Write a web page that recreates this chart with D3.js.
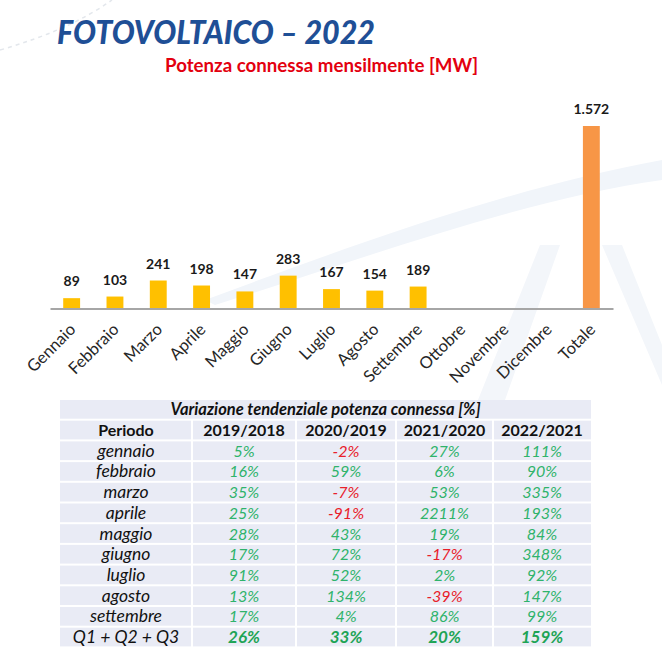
<!DOCTYPE html>
<html>
<head>
<meta charset="utf-8">
<script src="https://cdn.jsdelivr.net/npm/d3@7"></script>
<style>
  body { margin: 0; background: #fff; }
  svg { display: block; }
</style>
</head>
<body>
<script>
// Data
var months = ["Gennaio", "Febbraio", "Marzo", "Aprile", "Maggio", "Giugno", "Luglio",
              "Agosto", "Settembre", "Ottobre", "Novembre", "Dicembre", "Totale"];
var power = [89, 103, 241, 198, 147, 283, 167, 154, 189, null, null, null, 1572];

var periods = ["gennaio", "febbraio", "marzo", "aprile", "maggio", "giugno",
               "luglio", "agosto", "settembre", "Q1 + Q2 + Q3"];
var yearPairs = ["2019/2018", "2020/2019", "2021/2020", "2022/2021"];
var var2019 = [5, 16, 35, 25, 28, 17, 91, 13, 17, 26];
var var2020 = [-2, 59, -7, -91, 43, 72, 52, 134, 4, 33];
var var2021 = [27, 6, 53, 2211, 19, -17, 2, -39, 86, 20];
var var2022 = [111, 90, 335, 193, 84, 348, 92, 147, 99, 159];

var W = 662, H = 651;
var font = "Lato, 'Open Sans', sans-serif";

var svg = d3.select("body").append("svg")
            .attr("width", W)
            .attr("height", H);

// faint background decoration (watermark)
var deco = svg.append("g").attr("class", "watermark");
deco.append("path")
    .attr("d", "M0,50 Q70,30 112,0")
    .attr("fill", "none")
    .attr("stroke", "#e3e7ec")
    .attr("stroke-width", 1.5)
    .attr("stroke-dasharray", "4,4");
deco.append("path")
    .attr("d", "M205,300 C340,250 500,190 662,160 L662,180 C520,200 360,260 215,305 Z")
    .attr("fill", "#f1f5fa");
deco.append("path")
    .attr("d", "M478,400 L540,245 L560,245 L505,400 Z M602,245 L622,245 L662,345 L662,385 Z")
    .attr("fill", "#f3f6fa");

// Titles
svg.append("text")
   .attr("x", 57).attr("y", 44)
   .attr("textLength", 318)
   .attr("lengthAdjust", "spacingAndGlyphs")
   .style("font-family", font)
   .style("font-size", "33px")
   .style("font-weight", "900")
   .style("font-style", "italic")
   .style("fill", "#1f4f96")
   .text("FOTOVOLTAICO \u2013 2022");

svg.append("text")
   .attr("x", 165).attr("y", 72)
   .attr("textLength", 313)
   .attr("lengthAdjust", "spacingAndGlyphs")
   .style("font-family", font)
   .style("font-size", "18px")
   .style("font-weight", "bold")
   .style("fill", "#e3000f")
   .text("Potenza connessa mensilmente [MW]");

// ------------- Bar chart -------------
var base = 308.5;
var xScale = d3.scaleBand().domain(months).range([50, 613]).paddingInner(0.61).paddingOuter(0.305);
var yScale = d3.scaleLinear().domain([0, 1572]).range([base, 126]);

var itFormat = d3.formatLocale({decimal: ",", thousands: ".", grouping: [3], currency: ["", "€"]}).format(",d");

var bars = svg.append("g").attr("class", "bars");
var barData = months.map((m, i) => ({month: m, value: power[i]})).filter(d => d.value !== null);

bars.selectAll("rect")
    .data(barData)
    .enter()
    .append("rect")
    .attr("x", d => xScale(d.month))
    .attr("width", xScale.bandwidth())
    .attr("y", d => yScale(d.value))
    .attr("height", d => base - yScale(d.value))
    .attr("fill", d => d.month === "Totale" ? "#f79646" : "#ffc000");

bars.selectAll("text")
    .data(barData)
    .enter()
    .append("text")
    .attr("x", d => xScale(d.month) + xScale.bandwidth() / 2)
    .attr("y", d => yScale(d.value) - 12)
    .attr("text-anchor", "middle")
    .style("font-family", font)
    .style("font-size", "14px")
    .style("font-weight", "bold")
    .style("fill", "#1a1a1a")
    .text(d => itFormat(d.value));

// axis line
var xAxis = d3.axisBottom(xScale).tickSize(0).tickPadding(0).tickFormat("");
svg.append("g")
   .attr("class", "x axis")
   .attr("transform", "translate(0," + base + ")")
   .call(xAxis)
   .select(".domain")
   .attr("stroke", "#a6a6a6")
   .attr("stroke-width", 2);

svg.append("g")
   .attr("class", "x-labels")
   .selectAll("text")
   .data(months)
   .enter()
   .append("text")
   .attr("transform", d => "translate(" + (xScale(d) + xScale.bandwidth() / 2 + 5) + "," + (base + 22) + ") rotate(-45)")
   .attr("text-anchor", "end")
   .style("font-family", font)
   .style("font-size", "16.5px")
   .style("fill", "#262626")
   .text(d => d);

// ------------- Table -------------
var colWidths = [132, 104, 100, 97, 98];
var colX = [60];
colWidths.forEach((w, i) => colX.push(colX[i] + w));
var tableTop = 400, rowH = 20.7;
var rowScale = d3.scaleBand().domain(d3.range(12)).range([tableTop, tableTop + 12 * rowH]);

var table = svg.append("g").attr("class", "table");
var cellBg = "#e9ebf5";

// title row
table.append("rect")
     .attr("x", colX[0]).attr("y", rowScale(0))
     .attr("width", colX[5] - colX[0]).attr("height", rowH - 2)
     .attr("fill", cellBg);
table.append("text")
     .attr("x", (colX[0] + colX[5]) / 2)
     .attr("y", rowScale(0) + rowH / 2 + 5)
     .attr("text-anchor", "middle")
     .style("font-family", font)
     .style("font-size", "16.5px")
     .style("font-weight", "bold")
     .style("font-style", "italic")
     .style("fill", "#111")
     .text("Variazione tendenziale potenza connessa [%]");

var header = ["Periodo"].concat(yearPairs);
var columns = [var2019, var2020, var2021, var2022];
var rows = [header].concat(periods.map((p, i) => [p].concat(columns.map(c => c[i]))));

rows.forEach((row, r) => {
  var y = rowScale(r + 1);
  row.forEach((cell, c) => {
    table.append("rect")
         .attr("x", colX[c] + (c > 0 ? 1 : 0))
         .attr("y", y)
         .attr("width", colWidths[c] - (c > 0 ? 1 : 0) - (c < 4 ? 1 : 0))
         .attr("height", rowH - 2)
         .attr("fill", cellBg);

    var isHeader = r === 0,
        isTotal = r === rows.length - 1;
    var t = table.append("text")
         .attr("x", colX[c] + colWidths[c] / 2)
         .attr("y", y + rowH / 2 + 5)
         .attr("text-anchor", "middle")
         .style("font-family", font);

    if (isHeader) {
      t.style("font-size", "16px").style("font-weight", "bold").style("fill", "#111").text(cell);
    } else if (c === 0) {
      t.style("font-size", "17.5px").style("font-style", "italic").style("fill", "#111").text(cell);
    } else {
      var neg = cell < 0;
      t.style("font-size", isTotal ? "17px" : "16px")
       .style("font-style", "italic")
       .style("font-weight", isTotal ? "bold" : "normal")
       .style("fill", neg ? "#e8202a" : (isTotal ? "#1ea456" : "#2fb36b"))
       .text(cell + "%");
    }
  });
});
</script>
</body>
</html>
